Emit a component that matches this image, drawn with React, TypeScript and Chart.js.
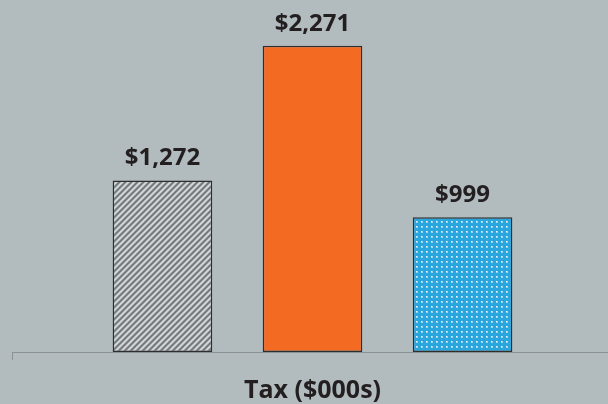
import React, { useEffect, useRef } from 'react';
import { Chart, registerables } from 'chart.js';

Chart.register(...registerables);

const categories = ['Tax ($000s)'];
const seriesNames = ['Series A', 'Series B', 'Series C'];
const seriesValues = [1272, 2271, 999];
const valueLabels = ['$1,272', '$2,271', '$999'];

const FONT = "'Open Sans', 'DejaVu Sans', sans-serif";
const TEXT_COLOR = '#231f20';

function hatchPattern(): CanvasPattern | string {
  const n = 6;
  const c = document.createElement('canvas');
  c.width = n;
  c.height = n;
  const ctx = c.getContext('2d');
  if (!ctx) return '#999';
  for (let y = 0; y < n; y++) {
    for (let x = 0; x < n; x++) {
      const k = (x + y) % n;
      ctx.fillStyle = k < 2 ? '#74797b' : k === 2 || k === 5 ? '#a4a8aa' : '#d3d6d8';
      ctx.fillRect(x, y, 1, 1);
    }
  }
  return ctx.createPattern(c, 'repeat') || '#999';
}

function dotPattern(): CanvasPattern | string {
  const n = 5;
  const c = document.createElement('canvas');
  c.width = n;
  c.height = n;
  const ctx = c.getContext('2d');
  if (!ctx) return '#29a8e0';
  ctx.fillStyle = '#2aa6df';
  ctx.fillRect(0, 0, n, n);
  ctx.fillStyle = '#9fd3ee';
  ctx.fillRect(1, 1, 2, 2);
  ctx.fillStyle = '#eef7fb';
  ctx.fillRect(1, 1, 1, 1);
  return ctx.createPattern(c, 'repeat') || '#29a8e0';
}

const valueLabelPlugin = {
  id: 'valueLabels',
  afterDatasetsDraw(chart: any) {
    const ctx = chart.ctx;
    ctx.save();
    ctx.font = `bold 24px ${FONT}`;
    ctx.fillStyle = TEXT_COLOR;
    ctx.textAlign = 'center';
    ctx.textBaseline = 'alphabetic';
    chart.data.datasets.forEach((_ds: any, i: number) => {
      const meta = chart.getDatasetMeta(i);
      const bar = meta.data[0];
      if (!bar) return;
      ctx.fillText(valueLabels[i], bar.x, bar.y - 15);
    });
    ctx.restore();
  },
};

export default function App() {
  const ref = useRef<HTMLCanvasElement | null>(null);

  useEffect(() => {
    if (!ref.current) return;
    const fills = [hatchPattern(), '#f36a23', dotPattern()];
    const chart = new Chart(ref.current, {
      type: 'bar',
      data: {
        labels: categories,
        datasets: seriesNames.map((name, i) => ({
          label: name,
          data: [seriesValues[i]],
          backgroundColor: fills[i] as any,
          borderColor: '#2e2e2e',
          borderWidth: 1.5,
          borderSkipped: false,
          categoryPercentage: 0.749,
          barPercentage: 0.664,
        })),
      },
      options: {
        responsive: false,
        animation: false,
        layout: { padding: { left: 12, right: 7, top: 0, bottom: 0 } },
        plugins: {
          legend: { display: false },
          tooltip: { enabled: false },
        },
        scales: {
          x: {
            grid: {
              display: true,
              drawOnChartArea: false,
              drawTicks: true,
              tickLength: 8,
              color: '#8c9193',
              lineWidth: 1,
            },
            border: { display: true, color: '#8c9193', width: 1 },
            ticks: { display: false },
            title: {
              display: true,
              text: categories[0],
              color: TEXT_COLOR,
              font: { family: FONT, size: 25, weight: 'bold', lineHeight: 1 },
              padding: { top: 18, bottom: 1 },
            },
          },
          y: {
            display: false,
            min: 0,
            max: 2610,
          },
        },
      },
      plugins: [valueLabelPlugin],
    });
    return () => chart.destroy();
  }, []);

  return (
    <div
      style={{
        position: 'absolute',
        left: 0,
        top: 0,
        width: 608,
        height: 404,
        overflow: 'hidden',
        background: '#b2bcbf',
      }}
    >
      <canvas ref={ref} width={620} height={404} style={{ width: 620, height: 404, display: 'block' }} />
    </div>
  );
}
